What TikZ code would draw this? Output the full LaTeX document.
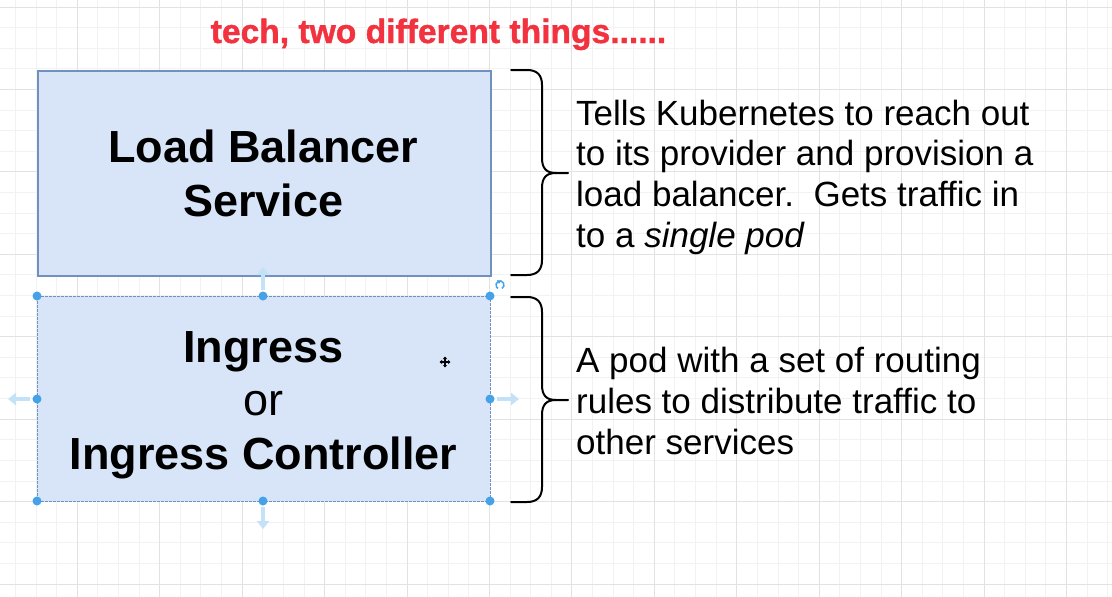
\documentclass[tikz,border=0pt]{standalone}
\usepackage{fontspec}
\setmainfont{Liberation Sans}
\newfontfamily\titlefont{Liberation Sans Bold}[FakeBold=1.2]
\usetikzlibrary{arrows.meta}
\definecolor{gridminor}{HTML}{F2F2F2}
\definecolor{gridmajor}{HTML}{E2E2E2}
\definecolor{boxfill}{HTML}{D8E5F8}
\definecolor{boxline}{HTML}{7090C0}
\definecolor{handle}{HTML}{45A2E8}
\definecolor{hint}{HTML}{C3E1F7}
\definecolor{titlered}{HTML}{F2323F}
\tikzset{
  minorgrid/.style={draw=gridminor, line width=1pt},
  majorgrid/.style={draw=gridmajor, line width=1pt},
  lbbox/.style={draw=boxline, fill=boxfill, line width=2pt, minimum width=453, minimum height=205, anchor=north west, inner sep=0},
  selbox/.style={draw=boxline, fill=boxfill, line width=0.9pt, dash pattern=on 3pt off 1pt, minimum width=453, minimum height=205, anchor=north west, inner sep=0},
  boldtxt/.style={font=\fontsize{45}{54}\selectfont\bfseries, anchor=base, inner sep=0},
  regtxt/.style={font=\fontsize{45}{54}\selectfont, anchor=base, inner sep=0},
  desc/.style={font=\fontsize{35}{41}\selectfont, anchor=base west, inner sep=0},
  brace/.style={draw=black, line width=2pt, line cap=round},
  grip/.style={circle, fill=handle, minimum size=9, inner sep=0},
  hintarrow/.style={draw=hint, line width=4pt, -{Triangle[width=12pt,length=8pt]}},
}
\begin{document}
\begin{tikzpicture}[x=1pt, y=-1pt]
\useasboundingbox (0,0) rectangle (1112,597);
\fill[white] (0,0) rectangle (1112,597);
% grid
\foreach \i in {0,...,54} {\draw[minorgrid] ({15.47+\i*20.61},0) -- ({15.47+\i*20.61},597);}
\foreach \i in {0,...,29} {\draw[minorgrid] (0,{7+\i*20.61}) -- (1112,{7+\i*20.61});}
\foreach \i in {0,...,13} {\draw[majorgrid] ({77.3+\i*82.44},0) -- ({77.3+\i*82.44},597);}
\foreach \i in {0,...,7} {\draw[majorgrid] (0,{7+\i*82.43}) -- (1112,{7+\i*82.43});}

% title
\node[font=\fontsize{33.6}{40}\titlefont, text=titlered, anchor=base, inner sep=0] (title) at (438.5,43) {tech, two different things......};

% boxes
\node[lbbox] (lb) at (37,70) {};
\node[selbox] (ing) at (37,296) {};

\node[boldtxt] (lbA) at (263.5,162) {Load Balancer};
\node[boldtxt] (lbB) at (263.5,216) {Service};
\node[boldtxt] (ingA) at (263.5,362) {Ingress};
\node[regtxt] (ingB) at (263.5,415) {or};
\node[boldtxt] (ingC) at (263.5,469) {Ingress Controller};

% braces
\draw[brace] (511,70) -- (527,70) .. controls (537,70) and (542,75) .. (542,85) -- (542,158)
  .. controls (542,168) and (546,173) .. (556,173) -- (568,173);
\draw[brace] (556,173) .. controls (546,173) and (542,178) .. (542,188) -- (542,260)
  .. controls (542,270) and (537,275) .. (527,275) -- (511,275);
\draw[brace] (511,297) -- (527,297) .. controls (537,297) and (542,302) .. (542,312) -- (542,385)
  .. controls (542,395) and (546,400) .. (556,400) -- (568,400);
\draw[brace] (556,400) .. controls (546,400) and (542,405) .. (542,415) -- (542,487)
  .. controls (542,497) and (537,502) .. (527,502) -- (511,502);

% descriptions
\node[desc] (d1) at (576,125) {Tells Kubernetes to reach out};
\node[desc] (d2) at (576,165) {to its provider and provision a};
\node[desc] (d3) at (576,206) {load balancer.\ \ Gets traffic in};
\node[desc] (d4) at (576,247) {to a \textit{single pod}};
\node[desc] (e1) at (576,372) {A pod with a set of routing};
\node[desc] (e2) at (576,413) {rules to distribute traffic to};
\node[desc] (e3) at (576,454) {other services};

% selection hints
\draw[hintarrow] (263,290) -- (263,267);
\draw[hintarrow] (263,507) -- (263,529);
\draw[hintarrow] (30,399) -- (8,399);
\draw[hintarrow] (497,399) -- (519,399);
\foreach \n/\p in {g1/{37,296}, g2/{263,296}, g3/{490,296}, g4/{37,399}, g5/{490,399}, g6/{37,501}, g7/{263,501}, g8/{490,501}}
  {\node[grip] (\n) at (\p) {};}
% rotate icon
\draw[handle, line width=1.5pt] (500,285) ++(60:4) arc[start angle=60, end angle=-240, radius=4];
\fill[handle] (497.2,280.2) -- (501.5,280.5) -- (499,283.8) -- cycle;
% move cursor
\draw[black, line width=1.3pt, {Triangle[width=4pt,length=2.5pt]}-{Triangle[width=4pt,length=2.5pt]}] (439.5,362) -- (450.5,362);
\draw[black, line width=1.3pt, {Triangle[width=4pt,length=2.5pt]}-{Triangle[width=4pt,length=2.5pt]}] (445,356.5) -- (445,367.5);
\end{tikzpicture}
\end{document}
